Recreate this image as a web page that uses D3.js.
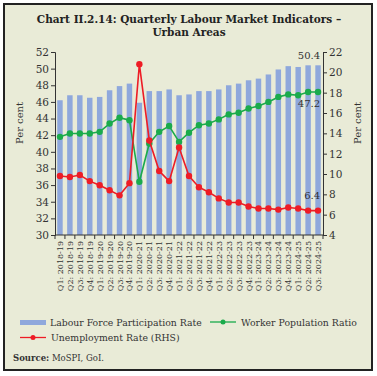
<!DOCTYPE html>
<html>
<head>
<meta charset="utf-8">
<script src="https://cdn.jsdelivr.net/npm/d3@7"></script>
<style>
  body { margin: 0; background: #ffffff; }
  text { font-family: "DejaVu Serif", serif; fill: #333333; }
</style>
</head>
<body>
<div id="chart"></div>
<script>
//quarters on the x axis
var quarters = [
    "Q1: 2018-19", "Q2: 2018-19", "Q3: 2018-19", "Q4: 2018-19",
    "Q1: 2019-20", "Q2: 2019-20", "Q3: 2019-20", "Q4: 2019-20",
    "Q1: 2020-21", "Q2: 2020-21", "Q3: 2020-21", "Q4: 2020-21",
    "Q1: 2021-22", "Q2: 2021-22", "Q3: 2021-22", "Q4: 2021-22",
    "Q1: 2022-23", "Q2: 2022-23", "Q3: 2022-23", "Q4: 2022-23",
    "Q1: 2023-24", "Q2: 2023-24", "Q3: 2023-24", "Q4: 2023-24",
    "Q1: 2024-25", "Q2: 2024-25", "Q3: 2024-25"
];
// labour force participation rate (bars, LHS)
var lfpr = [46.2, 46.8, 46.8, 46.5, 46.6, 47.4, 47.9, 48.2, 45.9, 47.3, 47.3, 47.5, 46.8, 46.9,
    47.3, 47.3, 47.5, 48.0, 48.2, 48.6, 48.8, 49.3, 49.9, 50.3, 50.2, 50.4, 50.4];
// worker population ratio (green line, LHS)
var wpr = [41.8, 42.2, 42.2, 42.2, 42.4, 43.4, 44.1, 43.8, 36.4, 41.0, 42.4, 43.1, 41.2, 42.3,
    43.2, 43.4, 43.9, 44.5, 44.7, 45.2, 45.5, 46.0, 46.6, 46.9, 46.8, 47.2, 47.2];
// unemployment rate (red line, RHS)
var ur = [9.8, 9.7, 9.9, 9.3, 8.9, 8.4, 7.9, 9.1, 20.8, 13.3, 10.3, 9.3, 12.6, 9.8,
    8.7, 8.2, 7.6, 7.2, 7.2, 6.8, 6.6, 6.6, 6.5, 6.7, 6.6, 6.4, 6.4];
var leftTicks = [30, 32, 34, 36, 38, 40, 42, 44, 46, 48, 50, 52];
var rightTicks = [4, 6, 8, 10, 12, 14, 16, 18, 20, 22];

var colors = { bar: "#8fa8dc", green: "#1aab4b", red: "#ee1c25", bg: "#e9ebd7" };

var W = 377, H = 376;
var plot = { left: 55, right: 323, top: 52, bottom: 235 };

var svg = d3.select("#chart").append("svg")
    .attr("width", W)
    .attr("height", H);

//frame and background
svg.append("rect")
    .attr("x", 4).attr("y", 4)
    .attr("width", 368).attr("height", 366)
    .attr("fill", colors.bg)
    .attr("stroke", "#222")
    .attr("stroke-width", 2);

//title
var title = svg.append("text")
    .attr("text-anchor", "middle")
    .style("font-weight", "bold")
    .style("font-size", "10.5px")
    .style("fill", "#222");
title.append("tspan").attr("x", 189).attr("y", 23).text("Chart II.2.14: Quarterly Labour Market Indicators \u2013");
title.append("tspan").attr("x", 189).attr("y", 36).text("Urban Areas");

//scales
var x = d3.scaleBand()
    .domain(quarters)
    .range([plot.left, plot.right])
    .paddingInner(0.45)
    .paddingOuter(0.225);
var xTicks = d3.scaleBand().domain(quarters).range([plot.left, plot.right]);
var yL = d3.scaleLinear().domain([30, 52]).range([plot.bottom, plot.top]);
var yR = d3.scaleLinear().domain([4, 22]).range([plot.bottom, plot.top]);

//bars
svg.selectAll(".bar")
    .data(lfpr)
    .enter().append("rect")
    .attr("class", "bar")
    .attr("x", (d, i) => x(quarters[i]))
    .attr("width", x.bandwidth())
    .attr("y", d => yL(d))
    .attr("height", d => yL(30) - yL(d))
    .attr("fill", colors.bar);

//axes
var leftAxis = svg.append("g")
    .attr("transform", "translate(" + plot.left + ",0)")
    .call(d3.axisLeft(yL).tickValues(leftTicks).tickSize(4).tickPadding(2));
var rightAxis = svg.append("g")
    .attr("transform", "translate(" + plot.right + ",0)")
    .call(d3.axisRight(yR).tickValues(rightTicks).tickSize(4).tickPadding(2));
[leftAxis, rightAxis].forEach(function(g) {
    g.selectAll("path, line").attr("stroke", "#333");
    g.selectAll("text").style("font-size", "10.5px").style("font-family", "DejaVu Serif").attr("fill", "#333");
});

//bottom axis line with ticks at band edges
svg.append("line")
    .attr("x1", plot.left).attr("x2", plot.right)
    .attr("y1", plot.bottom).attr("y2", plot.bottom)
    .attr("stroke", "#333");
svg.selectAll(".xtick")
    .data(quarters.concat(["end"]))
    .enter().append("line")
    .attr("class", "xtick")
    .attr("x1", (d, i) => plot.left + i * xTicks.step())
    .attr("x2", (d, i) => plot.left + i * xTicks.step())
    .attr("y1", plot.bottom)
    .attr("y2", plot.bottom + 4)
    .attr("stroke", "#333");

svg.selectAll(".xlabel")
    .data(quarters)
    .enter().append("text")
    .attr("class", "xlabel")
    .attr("text-anchor", "end")
    .attr("transform", d => "translate(" + (xTicks(d) + xTicks.bandwidth() / 2 + 3) + "," + (plot.bottom + 6) + ") rotate(-90)")
    .style("font-size", "8px")
    .text(d => d);

//axis titles
svg.append("text")
    .attr("transform", "translate(23,123) rotate(-90)")
    .attr("text-anchor", "middle")
    .style("font-size", "10px")
    .text("Per cent");
svg.append("text")
    .attr("transform", "translate(361,123) rotate(-90)")
    .attr("text-anchor", "middle")
    .style("font-size", "10px")
    .text("Per cent");

//lines and dots
function drawSeries(data, yScale, color) {
    var line = d3.line()
        .x((d, i) => x(quarters[i]) + x.bandwidth() / 2)
        .y(d => yScale(d));
    svg.append("path")
        .datum(data)
        .attr("d", line)
        .attr("fill", "none")
        .attr("stroke", color)
        .attr("stroke-width", 1.6);
    svg.append("g").selectAll("circle")
        .data(data)
        .enter().append("circle")
        .attr("cx", (d, i) => x(quarters[i]) + x.bandwidth() / 2)
        .attr("cy", d => yScale(d))
        .attr("r", 3.2)
        .attr("fill", color);
}
drawSeries(wpr, yL, colors.green);
drawSeries(ur, yR, colors.red);

//value labels for the last quarter
var last = quarters.length - 1;
var lastX = x(quarters[last]) + x.bandwidth() / 2 + 2;
function endLabel(val, yPos) {
    svg.append("text")
        .attr("x", lastX)
        .attr("y", yPos)
        .attr("text-anchor", "end")
        .style("font-size", "10px")
        .text(val.toFixed(1));
}
endLabel(lfpr[last], yL(lfpr[last]) - 6);
endLabel(wpr[last], yL(wpr[last]) + 15);
endLabel(ur[last], yR(ur[last]) - 12);

//legend
var legend = svg.append("g").style("font-size", "9.3px");
legend.append("rect")
    .attr("x", 20).attr("y", 320)
    .attr("width", 26).attr("height", 5)
    .attr("fill", colors.bar);
legend.append("text").attr("x", 50).attr("y", 326).text("Labour Force Participation Rate");

function legendLine(x0, y0, color, label) {
    legend.append("line")
        .attr("x1", x0).attr("x2", x0 + 26)
        .attr("y1", y0).attr("y2", y0)
        .attr("stroke", color).attr("stroke-width", 1.3);
    legend.append("circle")
        .attr("cx", x0 + 13).attr("cy", y0)
        .attr("r", 2.5).attr("fill", color);
    legend.append("text").attr("x", x0 + 31).attr("y", y0 + 3.5).text(label);
}
legendLine(210, 322, colors.green, "Worker Population Ratio");
legendLine(20, 337.5, colors.red, "Unemployment Rate (RHS)");

var source = svg.append("text")
    .attr("x", 13).attr("y", 361)
    .style("font-size", "8.5px");
source.append("tspan").style("font-weight", "bold").text("Source:");
source.append("tspan").text(" MoSPI, GoI.");
</script>
</body>
</html>
